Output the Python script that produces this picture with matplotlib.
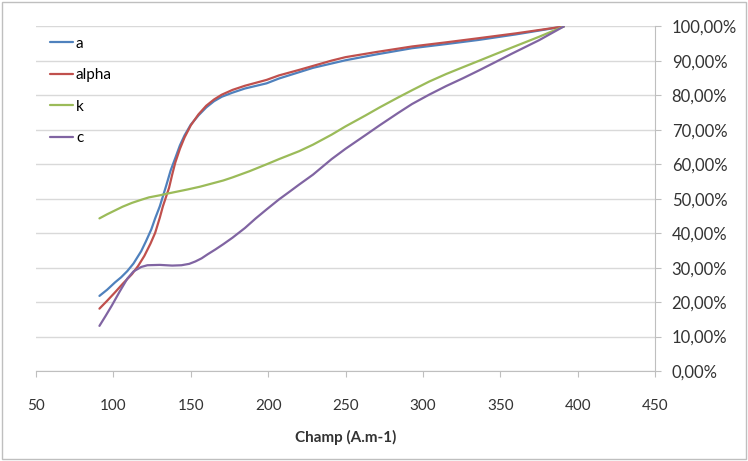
import numpy as np
import matplotlib.pyplot as plt
from matplotlib.patches import Rectangle
from matplotlib.ticker import FuncFormatter, MultipleLocator

# values (champ in A.m-1, values in %)
a_x = [91, 96, 101, 105, 109, 113, 118, 121, 124.5, 127, 130, 134, 137, 140, 143, 146, 150, 155,
       160, 165, 170, 177, 185, 199, 207, 229, 250, 270, 293, 315, 336, 360, 391]
a_y = [21.8, 23.6, 25.7, 27.2, 29.0, 31.2, 34.8, 37.6, 41.1, 44.3, 47.8, 53.6, 58.2, 61.8, 65.5, 68.4, 71.5, 74.2,
       76.5, 78.3, 79.6, 80.8, 82.0, 83.5, 84.9, 88.0, 90.2, 91.9, 93.7, 94.9, 96.1, 97.7, 100.0]

alpha_x = [91, 96, 101, 106, 112, 116, 120, 124, 127, 130, 132, 136, 138, 140, 143, 146, 150, 155,
           160, 165, 170, 177, 185, 199, 207, 220, 241, 250, 270, 293, 315, 336, 360, 391]
alpha_y = [18.1, 20.4, 22.8, 25.3, 28.1, 30.5, 33.4, 37.0, 40.1, 44.5, 47.8, 53.2, 57.0, 60.5, 64.5, 67.8, 71.3, 74.5,
           77.0, 78.8, 80.2, 81.6, 82.8, 84.5, 85.8, 87.4, 90.1, 91.1, 92.6, 94.2, 95.4, 96.6, 98.0, 100.0]

k_x = [91, 96, 101, 106, 112, 118, 123, 130, 135, 148, 156, 161, 171, 177, 188, 199, 207, 220, 229,
       241, 250, 263, 272, 284, 293, 304, 315, 326, 336, 347, 357, 375, 391]
k_y = [44.3, 45.5, 46.6, 47.7, 48.8, 49.7, 50.4, 51.0, 51.5, 52.7, 53.5, 54.1, 55.3, 56.2, 58.0, 60.0, 61.5, 63.8, 65.7,
       68.6, 71.0, 74.2, 76.5, 79.4, 81.5, 84.0, 86.2, 88.2, 90.0, 92.0, 93.8, 97.0, 100.0]

c_x = [91, 95, 99, 104, 109, 113, 118, 122, 130, 138, 144, 149, 153, 157, 161, 166, 171, 177, 185, 192,
       199, 207, 214, 220, 229, 241, 250, 263, 272, 284, 293, 304, 315, 326, 336, 347, 357, 375, 391]
c_y = [13.1, 16.0, 19.0, 23.0, 26.8, 28.9, 30.2, 30.7, 30.8, 30.6, 30.7, 31.1, 31.8, 32.7, 33.9, 35.3, 36.8, 38.7, 41.5, 44.3,
       46.9, 49.8, 52.1, 54.1, 57.0, 61.5, 64.5, 68.5, 71.3, 74.9, 77.5, 80.2, 82.7, 85.0, 87.2, 89.7, 92.0, 96.0, 100.0]

series = [("a", a_x, a_y, "#4F81BD"),
          ("alpha", alpha_x, alpha_y, "#C0504D"),
          ("k", k_x, k_y, "#9BBB59"),
          ("c", c_x, c_y, "#8064A2")]

plt.rcParams['font.family'] = ['Lato', 'DejaVu Sans']

fig = plt.figure(figsize=(7.48, 4.61), dpi=100)
ax = fig.add_axes([36 / 748, 1 - 371 / 461, 619 / 748, 344.5 / 461])

for name, xs, ys, col in series:
    ax.plot(xs, ys, color=col, lw=1.6, label=name, solid_capstyle='round', solid_joinstyle='round')

ax.set_xlim(50, 450)
ax.set_ylim(0, 100)
ax.xaxis.set_major_locator(MultipleLocator(50))
ax.yaxis.set_major_locator(MultipleLocator(10))
ax.yaxis.tick_right()
ax.yaxis.set_major_formatter(FuncFormatter(lambda v, p: ("%.2f%%" % v).replace(".", ",")))

ax.grid(axis='y', color='#d9d9d9', lw=1)
ax.set_axisbelow(True)
for s in ['top', 'left']:
    ax.spines[s].set_visible(False)
for s in ['bottom', 'right']:
    ax.spines[s].set_color('#bfbfbf')
ax.tick_params(axis='x', colors='#bfbfbf', labelcolor='#333333', labelsize=11, length=4, pad=16)
ax.tick_params(axis='y', colors='#bfbfbf', labelcolor='#333333', labelsize=12, length=4, pad=8)

ax.set_xlabel("Champ (A.m-1)", fontsize=11, fontweight='bold', color='#333333', labelpad=12)

ax.legend(loc='upper left', bbox_to_anchor=(14 / 619, 1 - 10 / 344.5), frameon=False,
          fontsize=11, borderpad=0, handlelength=1.5, handletextpad=0.2,
          labelspacing=1.15, borderaxespad=0)

fig.patches.append(Rectangle((0.003, 0.004), 0.994, 0.992, transform=fig.transFigure,
                             fill=False, edgecolor='#bfbfbf', lw=1))

fig.savefig("out.png", dpi=100)
